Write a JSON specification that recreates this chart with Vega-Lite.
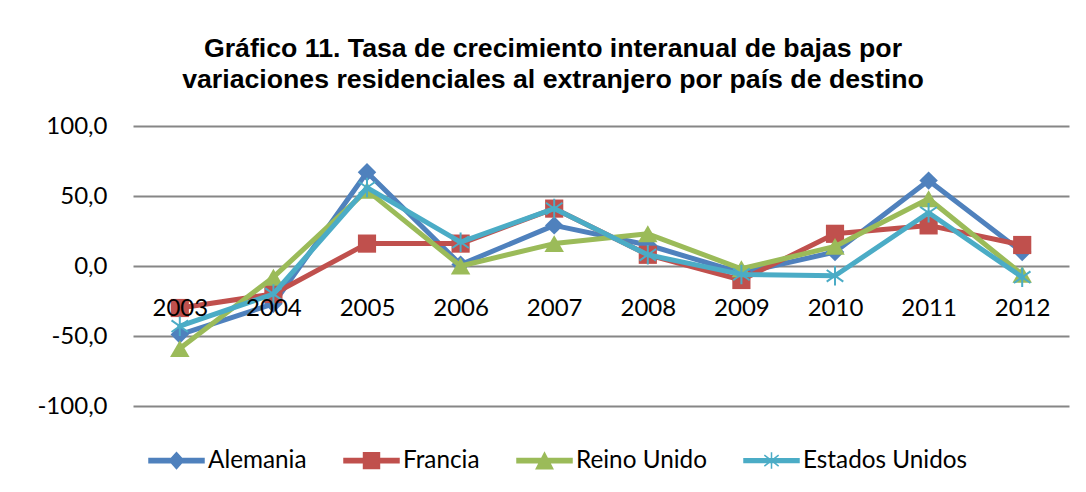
{
  "$schema": "https://vega.github.io/schema/vega-lite/v6.json",
  "width": 936,
  "height": 280,
  "autosize": {"type": "none"},
  "padding": {"left": 133, "top": 126, "right": 17, "bottom": 86},
  "background": "white",
  "title": {
    "text": ["Gráfico 11. Tasa de crecimiento interanual de bajas por", "variaciones residenciales al extranjero por país de destino"],
    "font": "Liberation Sans",
    "fontSize": 26.7,
    "fontWeight": "bold",
    "color": "#000000",
    "anchor": "middle",
    "frame": "bounds",
    "lineHeight": 31,
    "offset": 20
  },
  "config": {
    "view": {"stroke": null},
    "axis": {"labelFont": "Lato", "labelFontSize": 24, "labelColor": "#000000"},
    "legend": {
      "orient": "none",
      "legendX": 15,
      "legendY": 306,
      "direction": "horizontal",
      "title": null,
      "symbolSize": 3025,
      "symbolStrokeWidth": 1.5,
      "symbolOpacity": 1,
      "labelFont": "Lato",
      "labelFontSize": 24.3,
      "labelColor": "#000000",
      "labelOffset": 3,
      "labelLimit": 400,
      "columnPadding": 34,
      "padding": 0
    }
  },
  "data": {
    "values": [
      {"year": "2003", "country": "Alemania", "value": -49},
      {"year": "2004", "country": "Alemania", "value": -27},
      {"year": "2005", "country": "Alemania", "value": 67},
      {"year": "2006", "country": "Alemania", "value": 1},
      {"year": "2007", "country": "Alemania", "value": 29},
      {"year": "2008", "country": "Alemania", "value": 15},
      {"year": "2009", "country": "Alemania", "value": -5},
      {"year": "2010", "country": "Alemania", "value": 10},
      {"year": "2011", "country": "Alemania", "value": 61},
      {"year": "2012", "country": "Alemania", "value": 10},
      {"year": "2003", "country": "Francia", "value": -30},
      {"year": "2004", "country": "Francia", "value": -20},
      {"year": "2005", "country": "Francia", "value": 16},
      {"year": "2006", "country": "Francia", "value": 16},
      {"year": "2007", "country": "Francia", "value": 41},
      {"year": "2008", "country": "Francia", "value": 8},
      {"year": "2009", "country": "Francia", "value": -10},
      {"year": "2010", "country": "Francia", "value": 23},
      {"year": "2011", "country": "Francia", "value": 29},
      {"year": "2012", "country": "Francia", "value": 15},
      {"year": "2003", "country": "Reino Unido", "value": -59},
      {"year": "2004", "country": "Reino Unido", "value": -8},
      {"year": "2005", "country": "Reino Unido", "value": 54},
      {"year": "2006", "country": "Reino Unido", "value": 0},
      {"year": "2007", "country": "Reino Unido", "value": 16},
      {"year": "2008", "country": "Reino Unido", "value": 23},
      {"year": "2009", "country": "Reino Unido", "value": -2},
      {"year": "2010", "country": "Reino Unido", "value": 14},
      {"year": "2011", "country": "Reino Unido", "value": 48},
      {"year": "2012", "country": "Reino Unido", "value": -6},
      {"year": "2003", "country": "Estados Unidos", "value": -43},
      {"year": "2004", "country": "Estados Unidos", "value": -20},
      {"year": "2005", "country": "Estados Unidos", "value": 56},
      {"year": "2006", "country": "Estados Unidos", "value": 17},
      {"year": "2007", "country": "Estados Unidos", "value": 41},
      {"year": "2008", "country": "Estados Unidos", "value": 8},
      {"year": "2009", "country": "Estados Unidos", "value": -6},
      {"year": "2010", "country": "Estados Unidos", "value": -7},
      {"year": "2011", "country": "Estados Unidos", "value": 38},
      {"year": "2012", "country": "Estados Unidos", "value": -8}
    ]
  },
  "encoding": {
    "x": {
      "field": "year",
      "type": "ordinal",
      "scale": {"type": "point", "padding": 0.5},
      "axis": {"title": null, "domain": false, "ticks": false, "labelAngle": 0, "offset": -140, "labelPadding": 30, "zindex": 1}
    },
    "y": {
      "field": "value",
      "type": "quantitative",
      "scale": {"domain": [-100, 100]},
      "axis": {
        "title": null,
        "values": [-100, -50, 0, 50, 100],
        "domain": false,
        "ticks": false,
        "labelPadding": 26,
        "gridColor": "#868686",
        "gridWidth": 2,
        "gridOpacity": 1,
        "labelExpr": "replace(replace(format(datum.value, '.1f'), '.', ','), '\u2212', '-')"
      }
    },
    "color": {
      "field": "country",
      "type": "nominal",
      "sort": ["Alemania", "Francia", "Reino Unido", "Estados Unidos"],
      "scale": {
        "domain": ["Alemania", "Francia", "Reino Unido", "Estados Unidos"],
        "range": ["#4F81BD", "#C0504D", "#9BBB59", "#4BACC6"]
      },
      "legend": {"title": null}
    }
  },
  "layer": [
    {
      "transform": [{"filter": "false"}],
      "mark": {"type": "point", "filled": true, "opacity": 1},
      "encoding": {
        "shape": {
          "field": "country",
          "type": "nominal",
          "scale": {
            "domain": ["Alemania", "Francia", "Reino Unido", "Estados Unidos"],
            "range": [
              "M-1,-0.08L1,-0.08L1,0.08L-1,0.08Z M-0.26,0L0,-0.29L0.26,0L0,0.29Z",
              "M-1,-0.08L1,-0.08L1,0.08L-1,0.08Z M-0.29,-0.29L0.29,-0.29L0.29,0.29L-0.29,0.29Z",
              "M-1,-0.08L1,-0.08L1,0.08L-1,0.08Z M-0.3,0.3L0,-0.28L0.3,0.3Z",
              "M-1,-0.07L1,-0.07L1,0.07L-1,0.07Z M0,-0.3L0,0.3 M-0.26,-0.2L0.26,0.2 M-0.26,0.2L0.26,-0.2"
            ]
          },
          "legend": {"title": null}
        },
        "stroke": {
          "field": "country",
          "type": "nominal",
          "scale": {
            "domain": ["Alemania", "Francia", "Reino Unido", "Estados Unidos"],
            "range": ["#4F81BD", "#C0504D", "#9BBB59", "#4BACC6"]
          },
          "legend": {"title": null}
        }
      }
    },
    {
      "transform": [{"filter": {"field": "country", "equal": "Alemania"}}],
      "mark": {"type": "line", "strokeWidth": 5, "strokeCap": "round", "strokeJoin": "round"}
    },
    {
      "transform": [{"filter": {"field": "country", "equal": "Alemania"}}],
      "mark": {"type": "point", "shape": "diamond", "filled": true, "size": 340, "opacity": 1}
    },
    {
      "transform": [{"filter": {"field": "country", "equal": "Francia"}}],
      "mark": {"type": "line", "strokeWidth": 5, "strokeCap": "round", "strokeJoin": "round"}
    },
    {
      "transform": [{"filter": {"field": "country", "equal": "Francia"}}],
      "mark": {"type": "point", "shape": "square", "filled": true, "size": 330, "opacity": 1}
    },
    {
      "transform": [{"filter": {"field": "country", "equal": "Reino Unido"}}],
      "mark": {"type": "line", "strokeWidth": 5, "strokeCap": "round", "strokeJoin": "round"}
    },
    {
      "transform": [{"filter": {"field": "country", "equal": "Reino Unido"}}],
      "mark": {"type": "point", "shape": "triangle-up", "filled": true, "size": 380, "opacity": 1}
    },
    {
      "transform": [{"filter": {"field": "country", "equal": "Estados Unidos"}}],
      "mark": {"type": "line", "strokeWidth": 5, "strokeCap": "round", "strokeJoin": "round"}
    },
    {
      "transform": [{"filter": {"field": "country", "equal": "Estados Unidos"}}],
      "mark": {"type": "point", "shape": "M0,-1L0,1M-0.85,-0.6L0.85,0.6M-0.85,0.6L0.85,-0.6", "filled": false, "strokeWidth": 2, "size": 380, "opacity": 1}
    }
  ]
}
